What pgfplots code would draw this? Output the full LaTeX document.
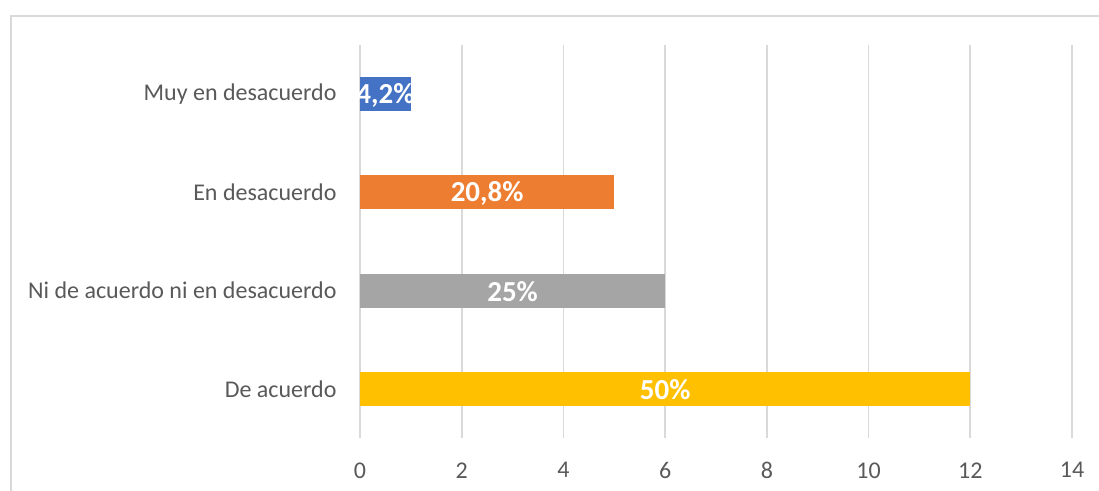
\documentclass[border=0pt]{standalone}
\usepackage{pgfplots}
\pgfplotsset{compat=1.18}
\usepackage{pgfplotstable}
\usepackage{fontspec}
\setmainfont{Carlito}
\definecolor{cblue}{HTML}{4472C4}
\definecolor{corange}{HTML}{ED7D31}
\definecolor{cgray}{HTML}{A5A5A5}
\definecolor{cgold}{HTML}{FFC000}
\definecolor{gridc}{HTML}{D9D9D9}
\definecolor{txt}{HTML}{595959}
\pgfplotstableread{
x y lab
1 3 {4,2\%}
5 2 {20,8\%}
6 1 {25\%}
12 0 {50\%}
}\datatab
\begin{document}
\begin{tikzpicture}[x=1pt,y=1pt]
\useasboundingbox (0,0) rectangle (1099,490);
\draw[gridc, line width=1.8pt] (11,-20) rectangle (1120,474);
\begin{axis}[
  at={(360pt,52pt)}, anchor=south west,
  width=712pt, height=393pt, scale only axis,
  xmin=0, xmax=14, ymin=-0.5, ymax=3.5,
  axis line style={draw=none},
  xmajorgrids, grid style={gridc, line width=1.6pt},
  xtick={0,2,...,14},
  ytick={0,1,2,3},
  yticklabels={De acuerdo, Ni de acuerdo ni en desacuerdo, En desacuerdo, Muy en desacuerdo},
  major tick length=0pt,
  tick label style={font=\fontsize{24}{28}\selectfont, text=txt},
  /pgf/number format/assume math mode=true,
  xticklabel shift=21pt,
  yticklabel shift=20pt,
  clip=false,
]
\addplot[xbar, bar width=34pt, bar shift=0pt, fill=cblue, draw=none] coordinates {(1,3)};
\addplot[xbar, bar width=34pt, bar shift=0pt, fill=corange, draw=none] coordinates {(5,2)};
\addplot[xbar, bar width=34pt, bar shift=0pt, fill=cgray, draw=none] coordinates {(6,1)};
\addplot[xbar, bar width=34pt, bar shift=0pt, fill=cgold, draw=none] coordinates {(12,0)};
\addplot[draw=none, mark=none, nodes near coords, point meta=explicit symbolic,
  every node near coord/.append style={anchor=center, text=white, font=\bfseries\fontsize{29}{33}\selectfont, inner sep=0pt, yshift=-1pt}]
  table[x expr=\thisrow{x}/2, y=y, meta=lab] {\datatab};
\end{axis}
\end{tikzpicture}
\end{document}
